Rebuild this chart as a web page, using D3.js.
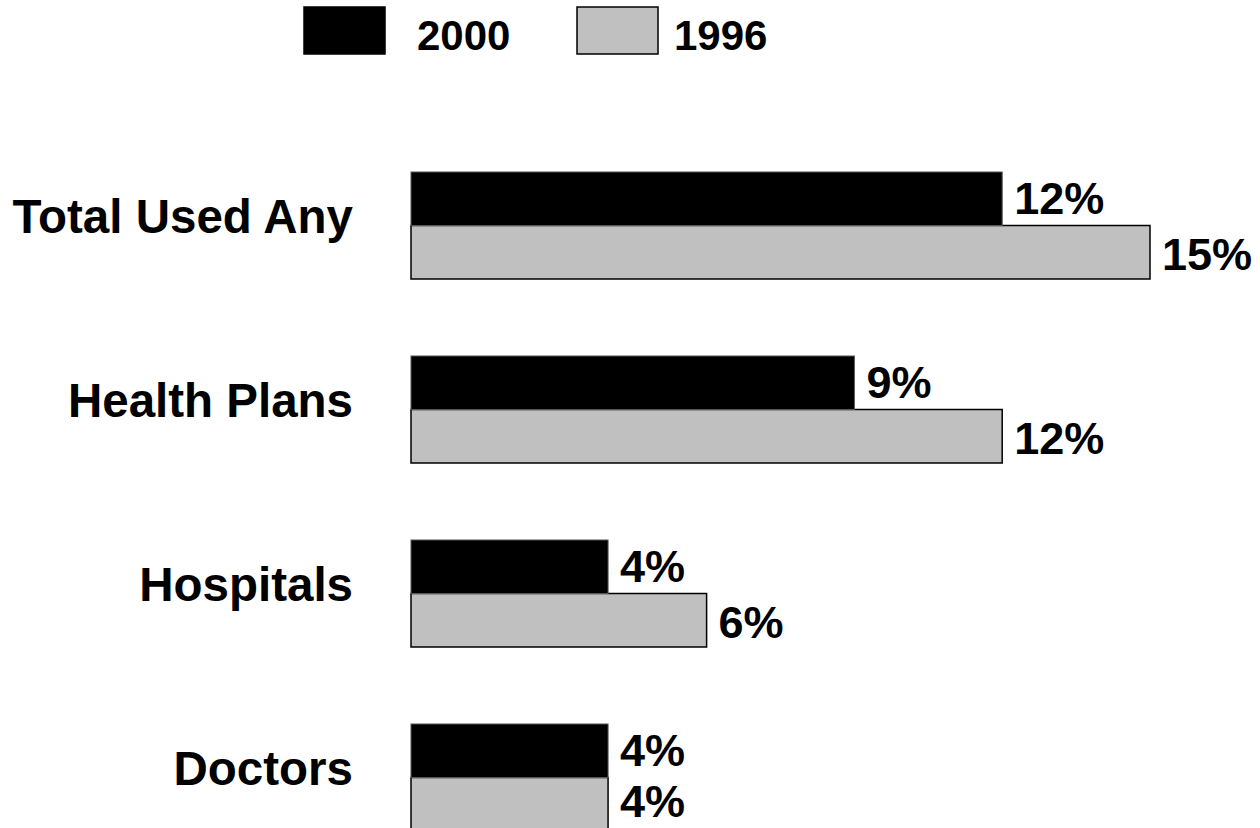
<!DOCTYPE html>
<html><head><meta charset="utf-8">
<script src="https://cdn.jsdelivr.net/npm/d3@7"></script>
<style>body{margin:0;background:#fff}svg{display:block}text{font-family:"Liberation Sans",Arial,sans-serif;font-weight:bold;fill:#000}</style>
</head><body><svg id="c" width="1260" height="828"></svg>
<script>
const categories = ["Total Used Any","Health Plans","Hospitals","Doctors"];
const seriesNames = ["2000","1996"];
const values2000 = [12, 9, 4, 4];
const values1996 = [15, 12, 6, 4];
const colors = {"2000":"#000000","1996":"#c0c0c0"};

const W = 1260, H = 828;
const svg = d3.select("#c");
const x = d3.scaleLinear().domain([0,15]).range([411,1150]);
const y = d3.scaleBand().domain(categories).range([172,172+184*4]);
const ys = d3.scaleBand().domain(seriesNames).range([0,107]);

const data = categories.map((c,i)=>({cat:c, vals:[{s:"2000",v:values2000[i]},{s:"1996",v:values1996[i]}]}));

const g = svg.selectAll("g.grp").data(data).join("g").attr("class","grp")
  .attr("transform",d=>`translate(0,${y(d.cat)})`);

g.append("text").attr("x",353).attr("y",61).attr("text-anchor","end")
  .style("font-size","47.5px").text(d=>d.cat);

g.selectAll("rect").data(d=>d.vals.slice().reverse()).join("rect")
  .attr("x",x(0)).attr("y",d=>ys(d.s)).attr("width",d=>x(d.v)-x(0)).attr("height",ys.bandwidth())
  .attr("fill",d=>colors[d.s])
  .attr("stroke",d=>d.s==="2000"?"#555":"#000").attr("stroke-width",d=>d.s==="2000"?1:1.5);

g.each(function(gd){
  const gy = y(gd.cat);
  d3.select(this).selectAll("text.val").data(gd.vals).join("text").attr("class","val")
    .attr("x",d=>x(d.v)+12)
    .attr("y",d=>{
      const base = ys(d.s)+ys.bandwidth()/2+(d.s==="2000"?15:18);
      return Math.min(base, H-11-gy);
    })
    .style("font-size","45px").text(d=>d.v+"%");
});

// legend
const leg = [{s:"2000",rx:304,tx:417},{s:"1996",rx:577,tx:674}];
const lg = svg.selectAll("g.leg").data(leg).join("g").attr("class","leg");
lg.append("rect").attr("x",d=>d.rx).attr("y",7).attr("width",81).attr("height",47)
  .attr("fill",d=>colors[d.s]).attr("stroke","#000").attr("stroke-width",1.5);
lg.append("text").attr("x",d=>d.tx).attr("y",50).style("font-size","42px").text(d=>d.s);
</script></body></html>
